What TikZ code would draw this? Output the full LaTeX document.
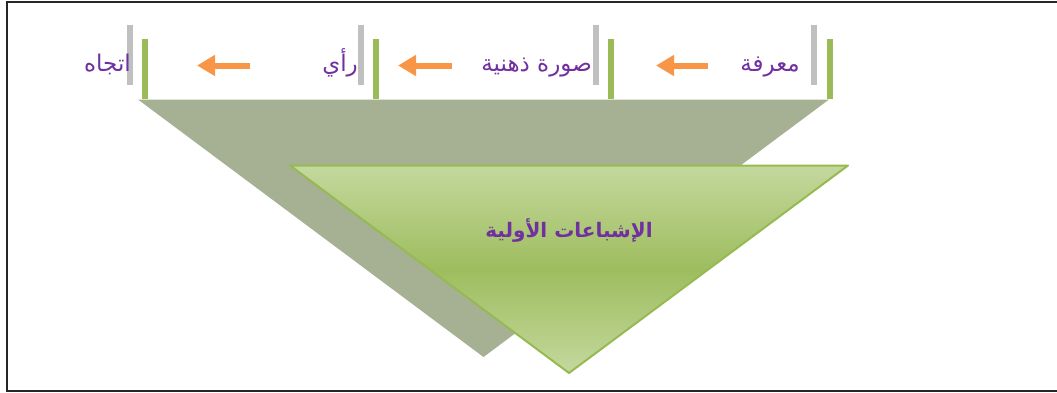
\documentclass[tikz,border=0pt]{standalone}
\usepackage{fontspec}
\usetikzlibrary{arrows.meta}
\newfontfamily\arabicfont[Script=Arabic]{DejaVu Sans}
\TeXXeTstate=1
\definecolor{txtpurple}{RGB}{112,48,160}
\definecolor{barg}{RGB}{192,192,192}
\definecolor{barl}{RGB}{155,187,89}
\definecolor{arrowor}{RGB}{247,150,70}
\definecolor{backtri}{RGB}{166,176,147}
\definecolor{frontlight}{RGB}{196,216,158}
\definecolor{frontmid}{RGB}{158,189,94}
\definecolor{frontedge}{RGB}{150,186,82}
\tikzset{
  graybar/.style={fill=barg, draw=none, minimum width=6pt, minimum height=60pt, inner sep=0pt},
  greenbar/.style={fill=barl, draw=none, minimum width=6pt, minimum height=60pt, inner sep=0pt},
  steplabel/.style={anchor=base east, inner sep=0pt, text=txtpurple, font=\arabicfont\fontsize{23}{27}\selectfont},
  flowarrow/.style={draw=arrowor, line width=6pt, -{Triangle[length=18pt,width=20pt]}},
  maintext/.style={text=txtpurple, font=\arabicfont\bfseries\fontsize{20}{24}\selectfont, inner sep=0pt},
}
\begin{document}
\begin{tikzpicture}[x=1pt,y=-1pt]
\useasboundingbox (0,0) rectangle (1057,392);
% frame
\draw[line width=2pt, color=black!85] (1057,2) -- (7,2) -- (7,391) -- (1057,391);
% back triangle
\fill[backtri] (138,99.5) -- (829,99.5) -- (483.5,357) -- cycle;
% front triangle
\path[top color=frontlight, bottom color=frontlight, middle color=frontmid]
  (290,165.5) -- (848,165.5) -- (569,373) -- cycle;
\draw[frontedge, line width=2pt, line join=round] (290,165.5) -- (848,165.5) -- (569,373) -- cycle;
\node[maintext] (main) at (569,230) {\beginR الإشباعات الأولية\endR};
% bars
\node[graybar] (g1) at (129.7,55) {};
\node[graybar] (g2) at (361,55) {};
\node[graybar] (g3) at (595.8,55) {};
\node[graybar] (g4) at (814.2,55) {};
\node[greenbar] (b1) at (144.7,69.2) {};
\node[greenbar] (b2) at (376.2,69.2) {};
\node[greenbar] (b3) at (611.3,69.2) {};
\node[greenbar] (b4) at (829.7,69.2) {};
% labels
\node[steplabel] (t4) at (800,71) {\beginR معرفة\endR};
\node[steplabel] (t3) at (592,71) {\beginR صورة ذهنية\endR};
\node[steplabel] (t2) at (358,71) {\beginR رأي\endR};
\node[steplabel] (t1) at (131,71) {\beginR اتجاه\endR};
% arrows
\coordinate (a3s) at (708,65.5); \coordinate (a3e) at (656,65.5);
\coordinate (a2s) at (452,65.5); \coordinate (a2e) at (398,65.5);
\coordinate (a1s) at (250,65.5); \coordinate (a1e) at (197,65.5);
\draw[flowarrow] (a3s) -- (a3e);
\draw[flowarrow] (a2s) -- (a2e);
\draw[flowarrow] (a1s) -- (a1e);
\end{tikzpicture}
\end{document}
